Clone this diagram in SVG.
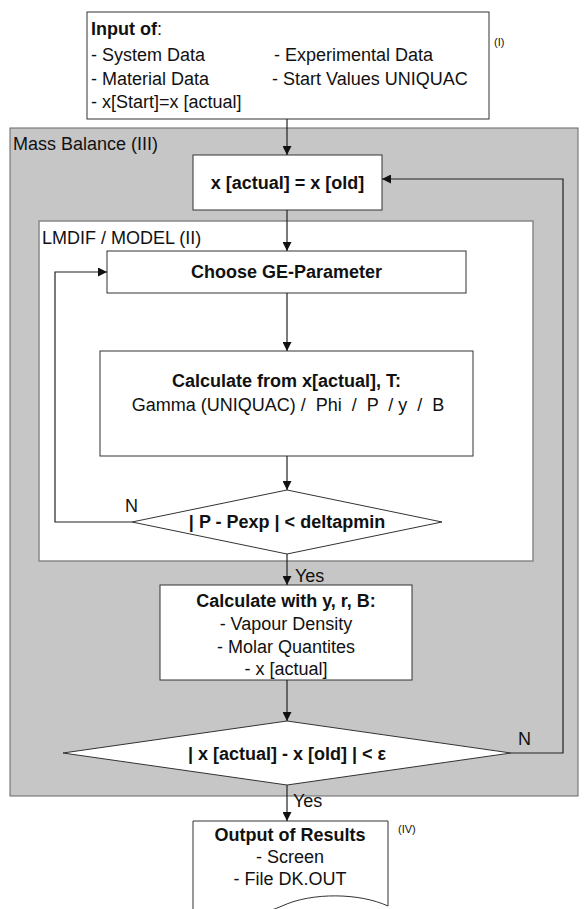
<svg xmlns="http://www.w3.org/2000/svg" width="585" height="909" viewBox="0 0 585 909">
<defs>
<marker id="ah" viewBox="0 0 10 10" refX="10" refY="5" markerWidth="9" markerHeight="9" markerUnits="userSpaceOnUse" orient="auto">
<path d="M0,0 L10,5 L0,10 z" fill="#111"/>
</marker>
</defs>
<style>
text{font-family:"Liberation Sans",Arial,sans-serif;font-size:18px;fill:#111}
.b{font-weight:bold}
.s{font-size:11px}
.c{text-anchor:middle}
.box{fill:#fff;stroke:#333;stroke-width:1}
.conn{fill:none;stroke:#222;stroke-width:1.2}
</style>
<rect width="585" height="909" fill="#fff"/>
<g id="mass-balance">
<rect x="10" y="128" width="568" height="668" fill="#c6c6c6" stroke="#666" stroke-width="1"/>
<text x="13" y="150">Mass Balance (III)</text>
</g>
<g id="lmdif-model">
<rect x="39" y="221" width="494" height="340" fill="#fff" stroke="#888" stroke-width="1.5"/>
<text x="42" y="244">LMDIF / MODEL (II)</text>
</g>
<g id="input">
<rect class="box" x="87" y="12" width="402" height="107"/>
<text x="91" y="35"><tspan class="b">Input of</tspan>:</text>
<text x="91" y="61">- System Data</text>
<text x="274" y="61">- Experimental Data</text>
<text x="91" y="85">- Material Data</text>
<text x="272" y="85">- Start Values UNIQUAC</text>
<text x="91" y="108">- x[Start]=x [actual]</text>
<text class="s" x="494" y="46">(I)</text>
</g>
<g id="x-actual-old">
<rect class="box" x="193" y="155" width="189" height="55"/>
<text class="b c" x="287.5" y="189">x [actual] = x [old]</text>
</g>
<g id="choose-ge">
<rect class="box" x="107" y="251" width="359" height="42"/>
<text class="b c" x="286.5" y="278">Choose GE-Parameter</text>
</g>
<g id="calculate-from">
<rect class="box" x="100" y="351" width="373" height="105"/>
<text class="b c" x="286.5" y="387">Calculate from x[actual], T:</text>
<text class="c" x="288" y="411" xml:space="preserve">Gamma (UNIQUAC) /  Phi  /  P  / y  /  B</text>
</g>
<g id="decision-p">
<polygon class="box" points="287,490 442,522 287,554 132,522"/>
<text class="b c" x="287" y="528">| P - Pexp | &lt; deltapmin</text>
</g>
<g id="calculate-with">
<rect class="box" x="160" y="585" width="252" height="95"/>
<text class="b c" x="286" y="607">Calculate with y, r, B:</text>
<text class="c" x="286" y="630">- Vapour Density</text>
<text class="c" x="286" y="653">- Molar Quantites</text>
<text class="c" x="286" y="675">- x [actual]</text>
</g>
<g id="decision-x">
<polygon class="box" points="287,721 511,753 287,785 63,753"/>
<text class="b c" x="287" y="760">| x [actual] - x [old] | &lt; ε</text>
</g>
<g id="output">
<path class="box" d="M193,821 H388 V906 C360,893 312,892 282,906 C255,918 222,920 193,914 Z"/>
<text class="b c" x="290" y="841">Output of Results</text>
<text class="c" x="290" y="863">- Screen</text>
<text class="c" x="290" y="885">- File DK.OUT</text>
<text class="s" x="398" y="833">(IV)</text>
</g>
<g id="connectors">
<path class="conn" d="M287,119 V155" marker-end="url(#ah)"/>
<path class="conn" d="M287,210 V251" marker-end="url(#ah)"/>
<path class="conn" d="M287,293 V351" marker-end="url(#ah)"/>
<path class="conn" d="M287,456 V490" marker-end="url(#ah)"/>
<path class="conn" d="M287,554 V585" marker-end="url(#ah)"/>
<path class="conn" d="M132,522 H55 V272 H107" marker-end="url(#ah)"/>
<path class="conn" d="M287,680 V721" marker-end="url(#ah)"/>
<path class="conn" d="M511,753 H563 V179 H382" marker-end="url(#ah)"/>
<path class="conn" d="M287,785 V821" marker-end="url(#ah)"/>
<text x="125" y="512">N</text>
<text x="295" y="582">Yes</text>
<text x="518" y="745">N</text>
<text x="293" y="807">Yes</text>
</g>
</svg>
